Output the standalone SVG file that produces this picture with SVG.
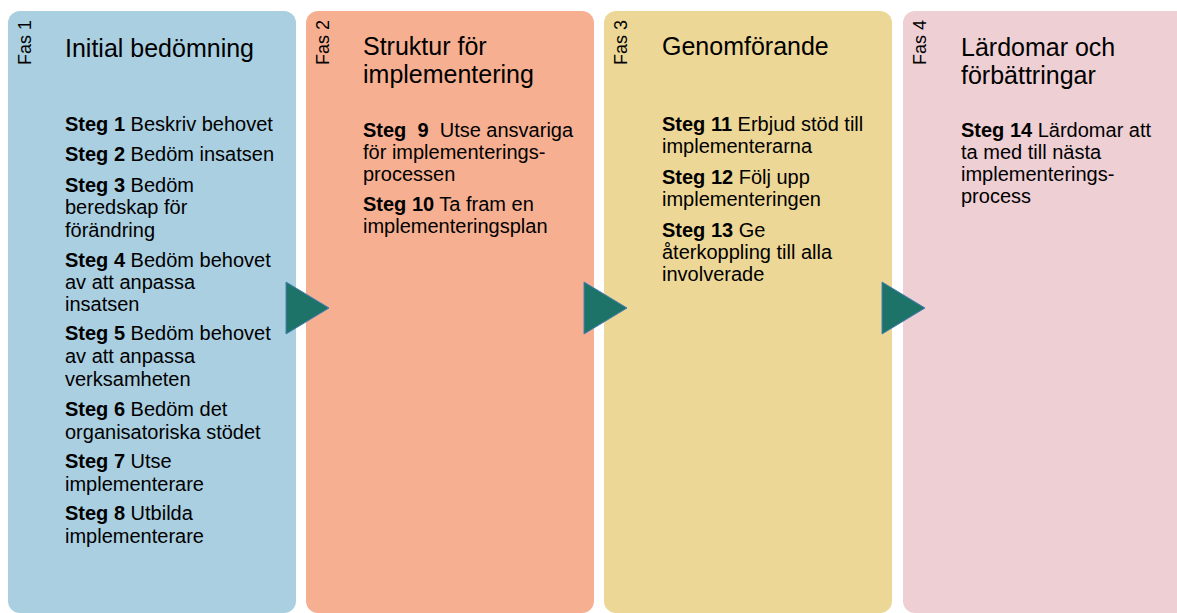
<svg xmlns="http://www.w3.org/2000/svg" width="1177" height="613" viewBox="0 0 1177 613">
<style>
text{font-family:"Liberation Sans",Arial,sans-serif;fill:#000;}
.fas{font-size:18px;}
.title{font-size:25px;}
.body{font-size:20px;}
.b{font-weight:bold;}
.arrow{fill:#1D7367;stroke:#4A7EB5;stroke-width:1;}
</style>
<rect width="1177" height="613" fill="#fff"/>
<g id="fas1">
<rect x="8" y="11" width="288" height="602" rx="12" fill="#AACFE1"/>
<text class="fas" transform="translate(31,65) rotate(-90)">Fas 1</text>
<text class="title" x="65" y="57">Initial bedömning</text>
<text class="body" x="65" y="131"><tspan class="b">Steg 1</tspan> Beskriv behovet</text>
<text class="body" x="65" y="161"><tspan class="b">Steg 2</tspan> Bedöm insatsen</text>
<text class="body" x="65" y="192"><tspan class="b">Steg 3</tspan> Bedöm</text>
<text class="body" x="65" y="214">beredskap för</text>
<text class="body" x="65" y="237">förändring</text>
<text class="body" x="65" y="267"><tspan class="b">Steg 4</tspan> Bedöm behovet</text>
<text class="body" x="65" y="289">av att anpassa</text>
<text class="body" x="65" y="311">insatsen</text>
<text class="body" x="65" y="340"><tspan class="b">Steg 5</tspan> Bedöm behovet</text>
<text class="body" x="65" y="363">av att anpassa</text>
<text class="body" x="65" y="386">verksamheten</text>
<text class="body" x="65" y="416"><tspan class="b">Steg 6</tspan> Bedöm det</text>
<text class="body" x="65" y="439">organisatoriska stödet</text>
<text class="body" x="65" y="468"><tspan class="b">Steg 7</tspan> Utse</text>
<text class="body" x="65" y="491">implementerare</text>
<text class="body" x="65" y="520"><tspan class="b">Steg 8</tspan> Utbilda</text>
<text class="body" x="65" y="543">implementerare</text>
</g>
<g id="fas2">
<rect x="306" y="11" width="288" height="602" rx="12" fill="#F6AF91"/>
<text class="fas" transform="translate(329,65) rotate(-90)">Fas 2</text>
<text class="title" x="363" y="55">Struktur för</text>
<text class="title" x="363" y="83">implementering</text>
<text class="body" x="363" y="137" xml:space="preserve"><tspan class="b">Steg  9</tspan>  Utse ansvariga</text>
<text class="body" x="363" y="159">för implementerings-</text>
<text class="body" x="363" y="181">processen</text>
<text class="body" x="363" y="211"><tspan class="b">Steg 10</tspan> Ta fram en</text>
<text class="body" x="363" y="233">implementeringsplan</text>
</g>
<g id="fas3">
<rect x="604" y="11" width="288" height="602" rx="12" fill="#EDD796"/>
<text class="fas" transform="translate(627,65) rotate(-90)">Fas 3</text>
<text class="title" x="662" y="55">Genomförande</text>
<text class="body" x="662" y="131"><tspan class="b">Steg 11</tspan> Erbjud stöd till</text>
<text class="body" x="662" y="153">implementerarna</text>
<text class="body" x="662" y="184"><tspan class="b">Steg 12</tspan> Följ upp</text>
<text class="body" x="662" y="206">implementeringen</text>
<text class="body" x="662" y="237"><tspan class="b">Steg 13</tspan> Ge</text>
<text class="body" x="662" y="259">återkoppling till alla</text>
<text class="body" x="662" y="281">involverade</text>
</g>
<g id="fas4">
<rect x="903" y="11" width="300" height="602" rx="12" fill="#EECFD3"/>
<text class="fas" transform="translate(926,65) rotate(-90)">Fas 4</text>
<text class="title" x="961" y="56">Lärdomar och</text>
<text class="title" x="961" y="84">förbättringar</text>
<text class="body" x="961" y="137"><tspan class="b">Steg 14</tspan> Lärdomar att</text>
<text class="body" x="961" y="159">ta med till nästa</text>
<text class="body" x="961" y="181">implementerings-</text>
<text class="body" x="961" y="203">process</text>
</g>
<g id="connectors">
<polygon class="arrow" points="286,282 329,308 286,334"/>
<polygon class="arrow" points="584,282 627,308 584,334"/>
<polygon class="arrow" points="882,282 925,308 882,334"/>
</g>
</svg>
